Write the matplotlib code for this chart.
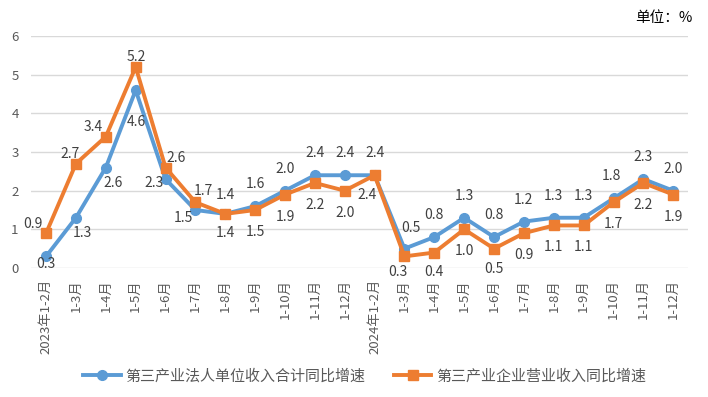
import matplotlib

matplotlib.use("Agg")
import matplotlib.pyplot as plt

plt.rcParams["font.family"] = ["Noto Sans CJK SC", "DejaVu Sans"]

# x-axis categories (two years of cumulative months)
months_2023 = ["2023年1-2月", "1-3月", "1-4月", "1-5月", "1-6月", "1-7月", "1-8月",
               "1-9月", "1-10月", "1-11月", "1-12月"]
months_2024 = ["2024年1-2月", "1-3月", "1-4月", "1-5月", "1-6月", "1-7月", "1-8月",
               "1-9月", "1-10月", "1-11月", "1-12月"]
categories = months_2023 + months_2024

legal_units = [0.3, 1.3, 2.6, 4.6, 2.3, 1.5, 1.4, 1.6, 2.0, 2.4, 2.4,
               2.4, 0.5, 0.8, 1.3, 0.8, 1.2, 1.3, 1.3, 1.8, 2.3, 2.0]
enterprises = [0.9, 2.7, 3.4, 5.2, 2.6, 1.7, 1.4, 1.5, 1.9, 2.2, 2.0,
               2.4, 0.3, 0.4, 1.0, 0.5, 0.9, 1.1, 1.1, 1.7, 2.2, 1.9]

series_names = ["第三产业法人单位收入合计同比增速", "第三产业企业营业收入同比增速"]
yticks = [0, 1, 2, 3, 4, 5, 6]

BLUE = "#5B9BD5"
ORANGE = "#ED7D31"
TEXT = "#404040"


def label_offset(i, blue):
    """Pixel offset (dx, dy-down) of a data label, mimicking the Excel placement."""
    if blue:
        early = {0: (0, 8), 1: (6, 15), 2: (7, 15), 3: (1, 32),
                 4: (-11, 4), 5: (-12, 8), 6: (0, 19)}
        tweak = {12: (6, -21), 19: (-2, -22)}
        return early.get(i, tweak.get(i, (0, -22)))
    early = {0: (-13, -9), 1: (-6, -10), 2: (-13, -10), 3: (1, -10),
             4: (11, -10), 5: (8, -11), 6: (0, -19)}
    tweak = {11: (-8, 20), 12: (-7, 16), 13: (0, 19), 15: (0, 20)}
    return early.get(i, tweak.get(i, (0, 22)))


fig = plt.figure(figsize=(7.08, 3.97), dpi=100)
ax = fig.add_axes([0.044, 0.325, 0.928, 0.584])

x = list(range(len(categories)))
ax.plot(x, legal_units, color=BLUE, lw=2.8, marker="o", ms=7,
        label=series_names[0], zorder=3)
ax.plot(x, enterprises, color=ORANGE, lw=2.8, marker="s", ms=7,
        label=series_names[1], zorder=4)

px = 72 / 100  # points per pixel
for i in x:
    for vals, blue in ((legal_units, True), (enterprises, False)):
        dx, dy = label_offset(i, blue)
        ax.annotate(f"{vals[i]:.1f}", (i, vals[i]), xytext=(dx * px, -dy * px),
                    textcoords="offset points", ha="center", va="center",
                    fontsize=10, color=TEXT, zorder=5)

ax.set_xlim(-0.5, len(categories) - 0.5)
ax.set_ylim(0, 6)
ax.set_yticks(yticks)
ax.set_xticks(x)
ax.set_xticklabels(categories, rotation=90, fontsize=9.5, color="#595959")
ax.tick_params(axis="y", labelsize=9.5, colors="#595959", length=0, pad=9)
ax.tick_params(axis="x", length=0, pad=8)
ax.grid(axis="y", color="#D9D9D9", lw=1)
ax.set_axisbelow(True)
for s in ax.spines.values():
    s.set_visible(False)

fig.text(0.978, 0.955, "单位：%", ha="right", va="center", fontsize=10.5, color="#000000")

fig.legend(loc="lower center", bbox_to_anchor=(0.515, 0.0), ncol=2, frameon=False,
           fontsize=10.8, labelcolor="#595959", handlelength=2.5, handletextpad=0.3,
           columnspacing=1.9)

fig.savefig("out.png", dpi=100)
